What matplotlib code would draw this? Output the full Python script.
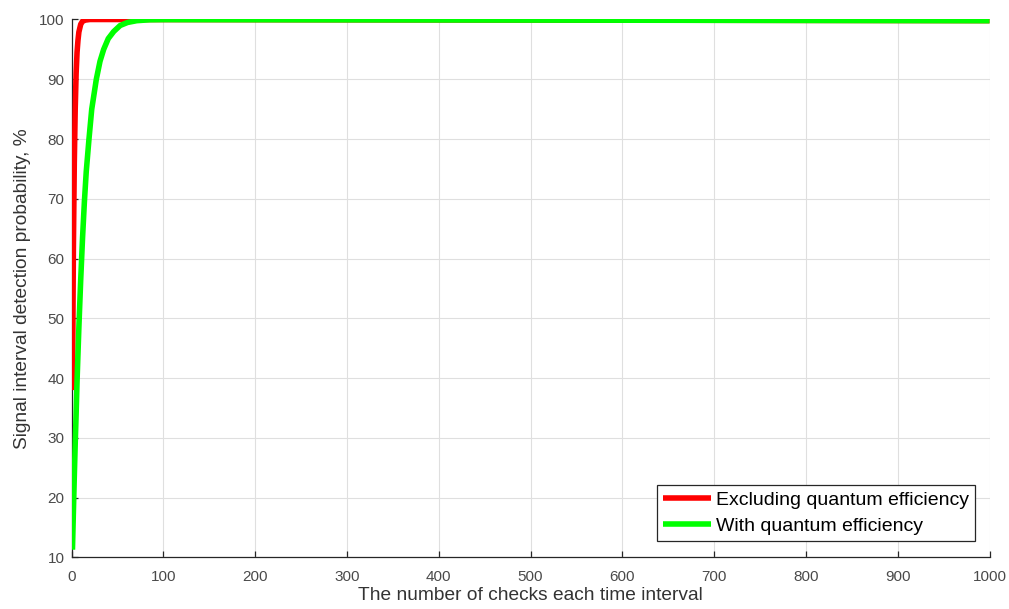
import matplotlib
matplotlib.use("Agg")
import matplotlib.pyplot as plt

plt.rcParams["font.family"] = ["Liberation Sans", "DejaVu Sans"]

# values
checks_red = [1, 2, 3, 4, 5, 6, 7, 8, 10, 12, 15, 20,
              100, 200, 300, 400, 500, 600, 700, 800, 900, 1000]
prob_red = [38.0, 61.5, 76.0, 85.0, 91.0, 94.5, 96.5, 97.9, 99.2, 99.7, 99.9, 100.0,
            99.99, 99.97, 99.95, 99.93, 99.91, 99.89, 99.87, 99.85, 99.83, 99.81]

checks_green = [1, 2, 3, 4, 5, 6, 7, 8, 10, 12, 14, 16, 19, 22, 27, 31, 35, 40,
                46, 53, 61, 71, 85, 100, 200, 300, 400, 500, 600, 700, 800, 900, 1000]
prob_green = [11.3, 17.5, 23.5, 29.0, 34.0, 39.5, 44.0, 48.5, 56.5, 63.5, 69.5,
              74.5, 80.0, 85.0, 90.0, 93.0, 95.0, 96.8, 98.0, 99.0, 99.5, 99.8,
              99.95, 99.98, 99.96, 99.94, 99.92, 99.90, 99.88, 99.86, 99.84,
              99.82, 99.80]

labels = ["Excluding quantum efficiency", "With quantum efficiency"]
xticks = list(range(0, 1001, 100))
yticks = list(range(10, 101, 10))

fig = plt.figure(figsize=(10.09, 6.09), dpi=100)
ax = fig.add_axes([0.0709, 0.0846, 0.9098, 0.8834])

ax.plot(checks_red, prob_red, color="#ff0000", lw=4.0, label=labels[0],
        solid_capstyle="butt", zorder=3)
ax.plot(checks_green, prob_green, color="#00ff00", lw=4.0, label=labels[1],
        solid_capstyle="butt", zorder=4)

ax.set_xlim(0, 1000)
ax.set_ylim(10, 100)
ax.set_xticks(xticks)
ax.set_yticks(yticks)
ax.grid(True, color="#dfdfdf", lw=0.8)
ax.set_axisbelow(True)

for s in ["top", "right"]:
    ax.spines[s].set_visible(False)
for s in ["left", "bottom"]:
    ax.spines[s].set_color("#262626")
    ax.spines[s].set_linewidth(0.9)

ax.tick_params(direction="in", length=4.5, width=0.9, color="#262626",
               labelcolor="#4a4a4a", labelsize=11)
ax.tick_params(axis="x", pad=9)
ax.tick_params(axis="y", pad=5)

ax.set_xlabel("The number of checks each time interval", fontsize=13.8,
              color="#333333", labelpad=2)
ax.set_ylabel("Signal interval detection probability, %", fontsize=13.8,
              color="#333333", labelpad=6)

leg = ax.legend(loc="lower right", bbox_to_anchor=(0.984, 0.031),
                borderaxespad=0, fontsize=14, fancybox=False,
                edgecolor="#262626", framealpha=1, handlelength=2.5,
                handletextpad=0.25, borderpad=0.3, labelspacing=0.45)
leg.get_frame().set_linewidth(0.9)

fig.savefig("out.png", dpi=100)
